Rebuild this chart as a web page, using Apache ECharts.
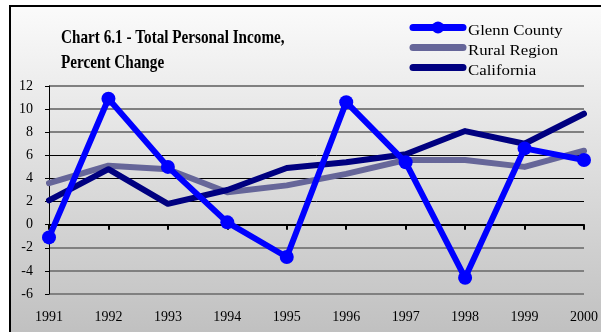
<!DOCTYPE html>
<html>
<head>
<meta charset="utf-8">
<script src="https://cdn.jsdelivr.net/npm/echarts@6/dist/echarts.min.js"></script>
<style>
  html, body { margin: 0; padding: 0; background: #ffffff; }
  #chart { width: 601px; height: 332px; }
</style>
</head>
<body>
<div id="chart"></div>
<script>
// Annual percent change in total personal income
var years = ['1991', '1992', '1993', '1994', '1995', '1996', '1997', '1998', '1999', '2000'];
var glennCounty = [-1.1, 10.9, 5.0, 0.2, -2.8, 10.6, 5.4, -4.6, 6.6, 5.6];
var ruralRegion = [3.6, 5.1, 4.8, 2.8, 3.4, 4.4, 5.6, 5.6, 5.0, 6.4];
var california = [2.1, 4.8, 1.8, 3.0, 4.9, 5.4, 6.1, 8.1, 7.0, 9.6];
var yTicks = { min: -6, max: 12, step: 2 };
var titleLines = ['Chart 6.1 - Total Personal Income,', 'Percent Change'];

var serif = '"Liberation Serif", "DejaVu Serif", serif';

var seriesDefs = [
  { name: 'Glenn County', data: glennCounty, color: '#0000ff', marker: true, z: 5 },
  { name: 'Rural Region', data: ruralRegion, color: '#666699', marker: false, z: 3 },
  { name: 'California', data: california, color: '#000080', marker: false, z: 4 }
];

// Gridlines: grey outside the 2..6 band, thin black inside it, axis line at 0
var tickCount = (yTicks.max - yTicks.min) / yTicks.step + 1;
var greyLines = [], blackLines = [];
for (var i = 0; i < tickCount; i++) {
  var v = yTicks.min + i * yTicks.step;
  var inBand = v >= 2 && v <= 6;
  greyLines.push(inBand || v === 0 ? 'rgba(0,0,0,0)' : '#808080');
  blackLines.push(inBand ? '#000000' : 'rgba(0,0,0,0)');
}

var graphics = [
  {
    type: 'rect',
    z: -10,
    silent: true,
    shape: { x: 10, y: 6, width: 700, height: 400 },
    style: {
      fill: new echarts.graphic.LinearGradient(0, 0, 0, 1, [
        { offset: 0, color: '#fbfbfb' },
        { offset: 0.82, color: '#c0c0c0' },
        { offset: 1, color: '#c0c0c0' }
      ]),
      stroke: '#000000',
      lineWidth: 2
    }
  }
];

// Title, two lines of condensed bold serif
titleLines.forEach(function (line, idx) {
  graphics.push({
    type: 'text',
    x: 61,
    y: 38.5 + idx * 24.5,
    scaleX: 0.8,
    style: {
      text: line,
      fontFamily: serif,
      fontWeight: 'bold',
      fontSize: 19,
      fill: '#000000',
      verticalAlign: 'middle'
    }
  });
});

// Legend: thick rounded swatches with labels
seriesDefs.forEach(function (s, idx) {
  var cy = 27.5 + idx * 20;
  graphics.push({
    type: 'line',
    shape: { x1: 413, y1: cy, x2: 463, y2: cy },
    style: { stroke: s.color, lineWidth: 7, lineCap: 'round' }
  });
  if (s.marker) {
    graphics.push({
      type: 'circle',
      shape: { cx: 438, cy: cy, r: 6 },
      style: { fill: s.color }
    });
  }
  graphics.push({
    type: 'text',
    x: 468,
    y: 31.5 + idx * 20,
    scaleX: 1.12,
    style: {
      text: s.name,
      fontFamily: serif,
      fontSize: 15,
      fill: '#000000',
      verticalAlign: 'middle'
    }
  });
});

var chart = echarts.init(document.getElementById('chart'), null, { renderer: 'canvas' });

chart.setOption({
  animation: false,
  backgroundColor: '#ffffff',
  graphic: graphics,
  grid: { left: 49, right: 9, top: 86, bottom: 38 },
  xAxis: [
    {
      type: 'category',
      data: years,
      boundaryGap: false,
      axisLine: { onZero: true, lineStyle: { color: '#000000', width: 2 } },
      axisTick: { show: true, alignWithLabel: true, length: 5, lineStyle: { color: '#000000', width: 2 } },
      axisLabel: { show: false },
      splitLine: { show: false }
    },
    {
      type: 'category',
      data: years,
      boundaryGap: false,
      position: 'bottom',
      axisLine: { show: false, onZero: false },
      axisTick: { show: false },
      axisLabel: { fontFamily: serif, fontSize: 14, color: '#000000', margin: 16 },
      splitLine: { show: false }
    }
  ],
  yAxis: [
    {
      type: 'value',
      min: yTicks.min,
      max: yTicks.max,
      interval: yTicks.step,
      axisLine: { show: true, lineStyle: { color: '#000000', width: 1 } },
      axisTick: { show: true, length: 4, lineStyle: { color: '#000000' } },
      axisLabel: { fontFamily: serif, fontSize: 14, color: '#000000', margin: 16 },
      splitLine: { show: true, lineStyle: { color: greyLines, width: 2 } }
    },
    {
      type: 'value',
      position: 'left',
      min: yTicks.min,
      max: yTicks.max,
      interval: yTicks.step,
      axisLine: { show: false },
      axisTick: { show: false },
      axisLabel: { show: false },
      splitLine: { show: true, lineStyle: { color: blackLines, width: 1 } }
    }
  ],
  series: seriesDefs.map(function (s) {
    return {
      name: s.name,
      type: 'line',
      data: s.data,
      showSymbol: s.marker,
      symbol: s.marker ? 'circle' : 'none',
      symbolSize: 14,
      lineStyle: { color: s.color, width: 6, cap: 'round', join: 'round' },
      itemStyle: { color: s.color },
      z: s.z
    };
  })
});
</script>
</body>
</html>
